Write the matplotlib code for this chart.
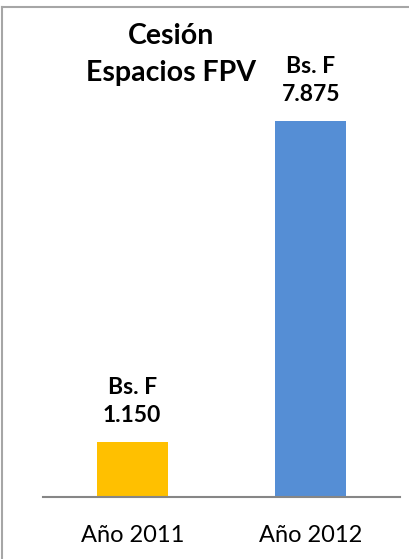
import matplotlib.pyplot as plt
from matplotlib.lines import Line2D

plt.rcParams['font.family'] = ['Lato', 'DejaVu Sans']

# data
categories = ['Año 2011', 'Año 2012']
values = [1150, 7875]
bar_colors = ['#FFC000', '#558ED5']
title = 'Cesión\nEspacios FPV'
currency = 'Bs. F'

W, H = 410, 559
fig = plt.figure(figsize=(W / 100, H / 100), dpi=100)
ax = fig.add_axes([43 / W, (H - 497) / H, (400 - 43) / W, (497 - 20) / H])

x = range(len(categories))
ax.bar(x, values, width=0.4, color=bar_colors, zorder=2)
ax.set_xlim(-0.5, 1.5)
ax.set_ylim(0, 10000)

for i, v in zip(x, values):
    label = currency + '\n' + f'{v:,}'.replace(',', '.')
    ax.annotate(label, (i, v), xytext=(0, 11.5), textcoords='offset points',
                ha='center', va='bottom', fontsize=16.5, fontweight='bold',
                linespacing=1.45)

ax.set_xticks(list(x))
ax.set_xticklabels(categories, fontsize=17)
ax.tick_params(axis='x', length=0, pad=20.5)
ax.set_yticks([])
for s in ['top', 'right', 'left']:
    ax.spines[s].set_visible(False)
ax.spines['bottom'].set_color('#868686')
ax.spines['bottom'].set_linewidth(1.5)

fig.text(171.5 / W, 1 - 54.5 / H, title, ha='center', va='center',
         fontsize=20.5, fontweight='bold', linespacing=1.5)

# chart frame: only its left and top edges fall inside the picture
frame = dict(color='#A6A6A6', linewidth=1.5, transform=fig.transFigure)
fig.add_artist(Line2D([2 / W, 2 / W], [0, 1 - 7 / H], **frame))
fig.add_artist(Line2D([2 / W, 1], [1 - 7 / H, 1 - 7 / H], **frame))

fig.savefig('out.png', dpi=100)
